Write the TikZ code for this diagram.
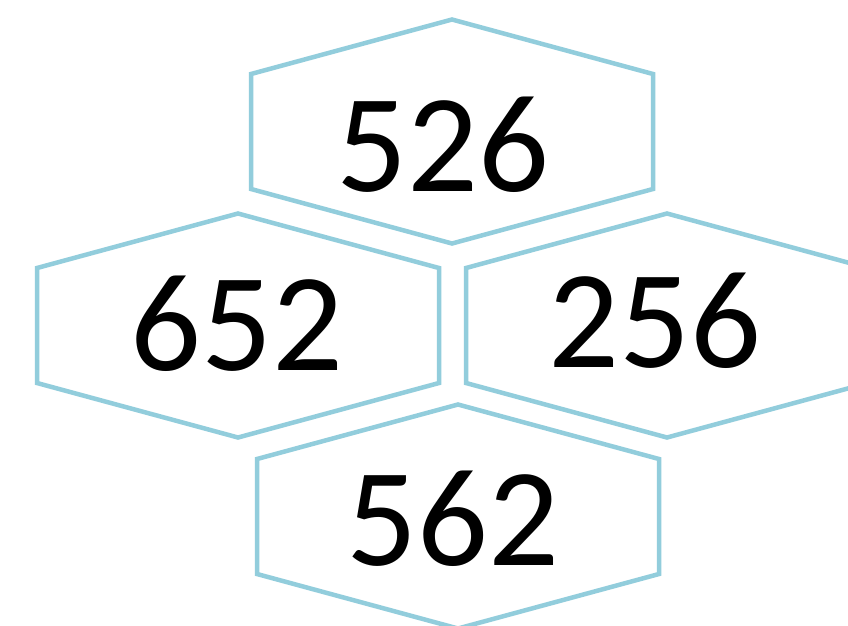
\documentclass[tikz,border=0pt]{standalone}
\usepackage{fontspec}
\newfontfamily\numfont{Carlito}
\definecolor{hexblue}{HTML}{92CDDC}
\begin{document}
\begin{tikzpicture}[x=1pt,y=-1pt,
  hexline/.style={draw=hexblue, line width=4.5pt, line join=miter},
  numtext/.style={font=\numfont\fontsize{140}{160}\selectfont, anchor=base, inner sep=0pt, text=black}]
\useasboundingbox (0,0) rectangle (848,625);
\clip (0,0) rectangle (848,625);
\fill[white] (0,0) rectangle (848,625);
\foreach \n/\cx/\cy in {htop/452/131.5, hleft/238/325.5, hright/667/325.5, hbottom/458/516.5}{
  \coordinate (\n) at (\cx,\cy);
  \draw[hexline, shift={(\n)}] (0,-112) -- (201,-57.5) -- (201,57.5) -- (0,112) -- (-201,57.5) -- (-201,-57.5) -- cycle;
}
\node[numtext] (t526) at (443,191) {526};
\node[numtext] (t652) at (237,370) {652};
\node[numtext] (t256) at (655,367) {256};
\node[numtext] (t562) at (453,565) {562};
\end{tikzpicture}
\end{document}
